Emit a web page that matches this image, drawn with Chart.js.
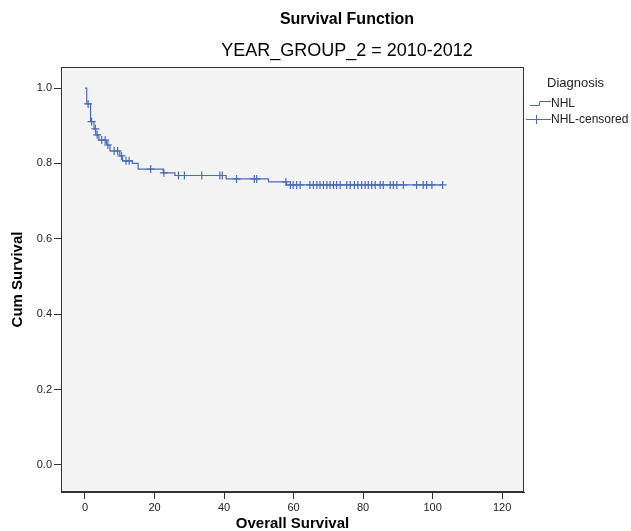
<!DOCTYPE html>
<html>
<head>
<meta charset="utf-8">
<title>Survival Function</title>
<script src="https://cdn.jsdelivr.net/npm/chart.js@4"></script>
<style>
    html, body { margin: 0; padding: 0; background: #fff; }
    #wrap { width: 631px; height: 531px; }
</style>
</head>
<body>
<div id="wrap"><canvas id="survival-chart" width="631" height="531"></canvas></div>
<script>
// Kaplan-Meier steps: time of each drop and cum survival after it
const eventTimes = [0, 0.5, 1.6, 2.6, 3.1, 4.0, 6.2, 7.2, 10.0, 10.8, 13.6, 15.3, 22.5, 25.9, 40.6, 52.8, 58.0];
const survival = [1.0, 0.958, 0.911, 0.892, 0.876, 0.862, 0.849, 0.833, 0.820, 0.807, 0.800, 0.785, 0.775, 0.768, 0.759, 0.751, 0.743];

// censored cases (the little crosses)
const censorTimes = [
    0.9, 1.9, 3.0, 3.5, 4.8, 5.8, 6.6, 8.4, 9.4, 10.5, 11.8, 12.7,
    18.9, 22.7, 26.9, 28.6, 33.6, 38.8, 39.5, 43.6, 48.7, 49.4, 57.8,
    59.1, 59.9, 60.9, 61.9, 64.7, 65.7, 66.7, 67.6, 68.6, 69.6, 70.5,
    71.5, 72.4, 73.4, 75.3, 76.3, 77.5, 78.5, 79.6, 80.6, 81.5, 82.5,
    83.5, 84.9, 85.8, 87.8, 88.7, 89.7, 91.6, 95.4, 97.3, 98.3, 99.8, 102.9
];

const xTicks = [0, 20, 40, 60, 80, 100, 120];
const yTicks = [0, 0.2, 0.4, 0.6, 0.8, 1.0];

const titleLines = ['Survival Function', 'YEAR_GROUP_2 = 2010-2012'];
const legendTitle = 'Diagnosis';
const legendLabels = ['NHL', 'NHL-censored'];

const lineColor = '#4a6cb8';
const frameColor = '#333';

// value of the step curve at time t
function survivalAt(t) {
    let s = survival[0];
    eventTimes.forEach((et, i) => {
        if (et <= t) s = survival[i];
    });
    return s;
}

const lastTime = Math.max(...censorTimes);
const stepPoints = eventTimes.map((t, i) => ({ x: t, y: survival[i] }));
stepPoints.push({ x: lastTime, y: survivalAt(lastTime) });
const censorPoints = censorTimes.map(t => ({ x: t, y: survivalAt(t) }));

// grey plot area with a full frame
const plotBackground = {
    id: 'plotBackground',
    beforeDatasetsDraw(chart) {
        const { ctx, chartArea: a } = chart;
        ctx.save();
        ctx.fillStyle = '#f3f3f3';
        ctx.fillRect(a.left, a.top, a.right - a.left, a.bottom - a.top);
        ctx.strokeStyle = frameColor;
        ctx.lineWidth = 1;
        ctx.strokeRect(a.left + 0.5, a.top + 0.5, a.right - a.left - 1, a.bottom - a.top - 1);
        ctx.restore();
    }
};

// titles and the legend on the right
const headerAndLegend = {
    id: 'headerAndLegend',
    afterDraw(chart) {
        const ctx = chart.ctx;
        ctx.save();
        ctx.fillStyle = '#000';
        ctx.textAlign = 'center';
        ctx.textBaseline = 'middle';
        ctx.font = 'bold 16px "Liberation Sans", Arial, sans-serif';
        ctx.fillText(titleLines[0], 347, 20);
        ctx.font = '18px "Liberation Sans", Arial, sans-serif';
        ctx.fillText(titleLines[1], 347, 51);

        ctx.textAlign = 'left';
        ctx.fillStyle = '#222';
        ctx.font = '13px "Liberation Sans", Arial, sans-serif';
        ctx.fillText(legendTitle, 547, 83);

        ctx.font = '12px "Liberation Sans", Arial, sans-serif';
        ctx.fillText(legendLabels[0], 551, 104);
        ctx.fillText(legendLabels[1], 551, 120);

        ctx.strokeStyle = lineColor;
        ctx.lineWidth = 1;
        // step icon
        ctx.beginPath();
        ctx.moveTo(530, 105.5);
        ctx.lineTo(539.5, 105.5);
        ctx.lineTo(539.5, 101.5);
        ctx.lineTo(551, 101.5);
        ctx.stroke();
        // censored icon
        ctx.beginPath();
        ctx.moveTo(526, 119.5);
        ctx.lineTo(551, 119.5);
        ctx.moveTo(536.5, 115);
        ctx.lineTo(536.5, 124);
        ctx.stroke();
        ctx.restore();
    }
};

const axisFont = { family: '"Liberation Sans", Arial, sans-serif', size: 11 };
const axisTitleFont = { family: '"Liberation Sans", Arial, sans-serif', size: 15, weight: 'bold' };

const ctx = document.getElementById('survival-chart').getContext('2d');
const survivalChart = new Chart(ctx, {
    type: 'scatter',
    data: {
        datasets: [
            {
                type: 'line',
                label: legendLabels[0],
                data: stepPoints,
                stepped: true,
                borderColor: lineColor,
                borderWidth: 1.2,
                pointRadius: 0,
                fill: false
            },
            {
                label: legendLabels[1],
                data: censorPoints,
                pointStyle: 'cross',
                pointRadius: 4,
                pointBorderWidth: 1.2,
                borderColor: lineColor,
                backgroundColor: lineColor,
                showLine: false
            }
        ]
    },
    options: {
        responsive: false,
        animation: false,
        devicePixelRatio: 1,
        layout: { padding: { top: 67, right: 107, left: 0, bottom: 0 } },
        plugins: {
            legend: { display: false },
            title: { display: false },
            tooltip: { enabled: false }
        },
        scales: {
            x: {
                type: 'linear',
                min: -6.9,
                max: 126.3,
                afterBuildTicks: scale => { scale.ticks = xTicks.map(v => ({ value: v })); },
                afterFit: scale => { scale.height = 39; },
                grid: { drawOnChartArea: false, drawTicks: true, tickLength: 7, color: frameColor },
                border: { display: true, color: frameColor },
                ticks: { font: axisFont, color: '#222', padding: 2, maxRotation: 0 },
                title: { display: true, text: 'Overall Survival', font: axisTitleFont, color: '#000', padding: { top: 0, bottom: -2 } }
            },
            y: {
                type: 'linear',
                min: -0.072,
                max: 1.056,
                afterBuildTicks: scale => { scale.ticks = yTicks.map(v => ({ value: v })); },
                afterFit: scale => { scale.width = 61; },
                grid: { drawOnChartArea: false, drawTicks: true, tickLength: 7, color: frameColor },
                border: { display: true, color: frameColor },
                ticks: { font: axisFont, color: '#222', padding: 2, callback: v => v.toFixed(1) },
                title: { display: true, text: 'Cum Survival', font: axisTitleFont, color: '#000', padding: { top: 9, bottom: 0 } }
            }
        }
    },
    plugins: [plotBackground, headerAndLegend]
});
</script>
</body>
</html>
